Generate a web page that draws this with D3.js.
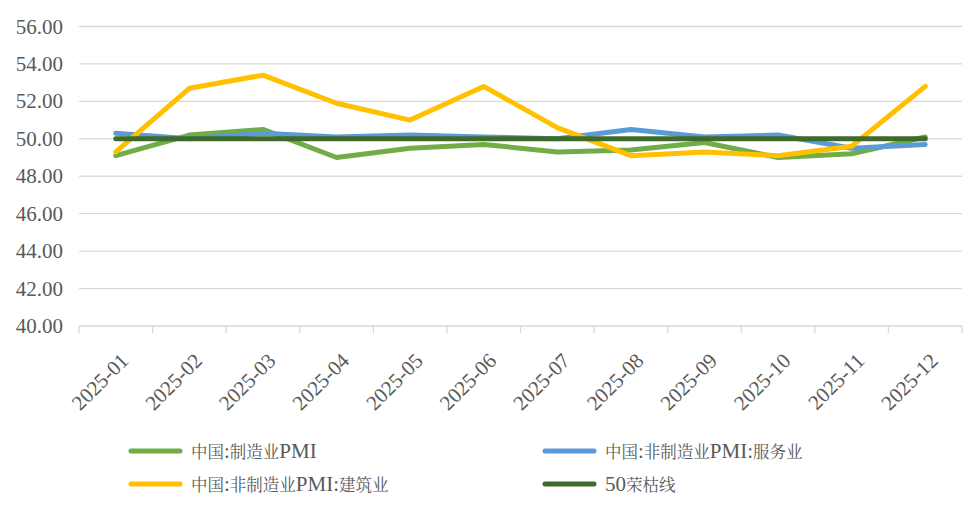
<!DOCTYPE html>
<html><head><meta charset="utf-8">
<script src="https://cdn.jsdelivr.net/npm/d3@7"></script>
<style>
html,body{margin:0;padding:0;background:#fff;}
svg text, svg tspan{font-family:"Liberation Serif" !important;}
svg tspan.cjk{font-family:"Noto Serif CJK SC" !important;}
</style></head>
<body><svg id="c" width="977" height="512" font-family="Liberation Serif"></svg>
<script>
const categories = ["2025-01","2025-02","2025-03","2025-04","2025-05","2025-06","2025-07","2025-08","2025-09","2025-10","2025-11","2025-12"];
const manufacturing = [49.1,50.2,50.5,49.0,49.5,49.7,49.3,49.4,49.8,49.0,49.2,50.1];
const services = [50.3,50.0,50.3,50.1,50.2,50.1,50.0,50.5,50.1,50.2,49.5,49.7];
const construction = [49.3,52.7,53.4,51.9,51.0,52.8,50.6,49.1,49.3,49.1,49.6,52.8];
const boomLine = [50,50,50,50,50,50,50,50,50,50,50,50];
const yTicks = [40,42,44,46,48,50,52,54,56];
const seriesNames = ["中国:制造业PMI","中国:非制造业PMI:服务业","中国:非制造业PMI:建筑业","50荣枯线"];
const seriesColors = ["#70ad47","#5b9bd5","#ffc000","#3f6a2a"];

(function(){
const FONT = '"Liberation Serif"';
const CJK = '"Noto Serif CJK SC"';
const svg = d3.select("#c");
const pl = 79, pr = 962, pt = 26.5, pb = 326;
const x = d3.scaleBand().domain(categories).range([pl, pr]);
const y = d3.scaleLinear().domain([40,56]).range([pb, pt]);

svg.append("g").selectAll("line").data(yTicks.filter(d=>d>40)).join("line")
  .attr("x1",pl).attr("x2",pr).attr("y1",d=>y(d)).attr("y2",d=>y(d))
  .attr("stroke","#d9d9d9").attr("stroke-width",1.3);

svg.append("g").selectAll("text").data(yTicks).join("text")
  .attr("x",63).attr("y",d=>y(d)+7).attr("text-anchor","end")
  .attr("font-family","Liberation Serif").style("font-family",FONT,"important").attr("fill","#595959")
  .attr("font-size",21).text(d=>d.toFixed(2));

const xa = svg.append("g");
xa.append("line").attr("x1",pl).attr("x2",pr).attr("y1",pb).attr("y2",pb)
  .attr("stroke","#d9d9d9").attr("stroke-width",1.3);
const bounds = categories.map(c=>x(c)).concat([pr]);
xa.selectAll("line.t").data(bounds).join("line").attr("class","t")
  .attr("x1",d=>d).attr("x2",d=>d).attr("y1",pb).attr("y2",pb+7)
  .attr("stroke","#d9d9d9").attr("stroke-width",1.3);
xa.selectAll("text").data(categories).join("text")
  .attr("transform",d=>`translate(${x(d)+x.bandwidth()/2+14},${pb+36}) rotate(-45)`)
  .attr("font-family","Liberation Serif").style("font-family",FONT,"important").attr("fill","#595959")
  .attr("text-anchor","end").attr("font-size",21).text(d=>d);

const allSeries = [manufacturing, services, construction, boomLine];
const line = d3.line().x((d,i)=>x(categories[i])+x.bandwidth()/2).y(d=>y(d));
allSeries.forEach((s,k)=>{
  svg.append("path").datum(s).attr("d",line).attr("fill","none")
    .attr("stroke",seriesColors[k]).attr("stroke-width",5)
    .attr("stroke-linejoin","round").attr("stroke-linecap","round");
});

const legPos = [[129,451],[543,451],[129,484],[543,484]];
seriesNames.forEach((n,k)=>{
  const [lx,ly] = legPos[k];
  svg.append("line").attr("x1",lx+2).attr("x2",lx+51).attr("y1",ly).attr("y2",ly)
    .attr("stroke",seriesColors[k]).attr("stroke-width",5).attr("stroke-linecap","round");
  const t = svg.append("text").attr("x",lx+62).attr("y",ly+7)
    .attr("font-family","Liberation Serif").style("font-family",FONT,"important").attr("fill","#595959").attr("font-size",21);
  n.split(/([\u4e00-\u9fff]+)/).filter(p=>p.length).forEach(p=>{
    const isC = /[\u4e00-\u9fff]/.test(p);
    t.append("tspan").attr("class",isC?"cjk":"lat")
      .style("font-family",isC?CJK:FONT,"important")
      .attr("font-size",isC?16.5:21).text(p);
  });
});
})();
</script></body></html>
